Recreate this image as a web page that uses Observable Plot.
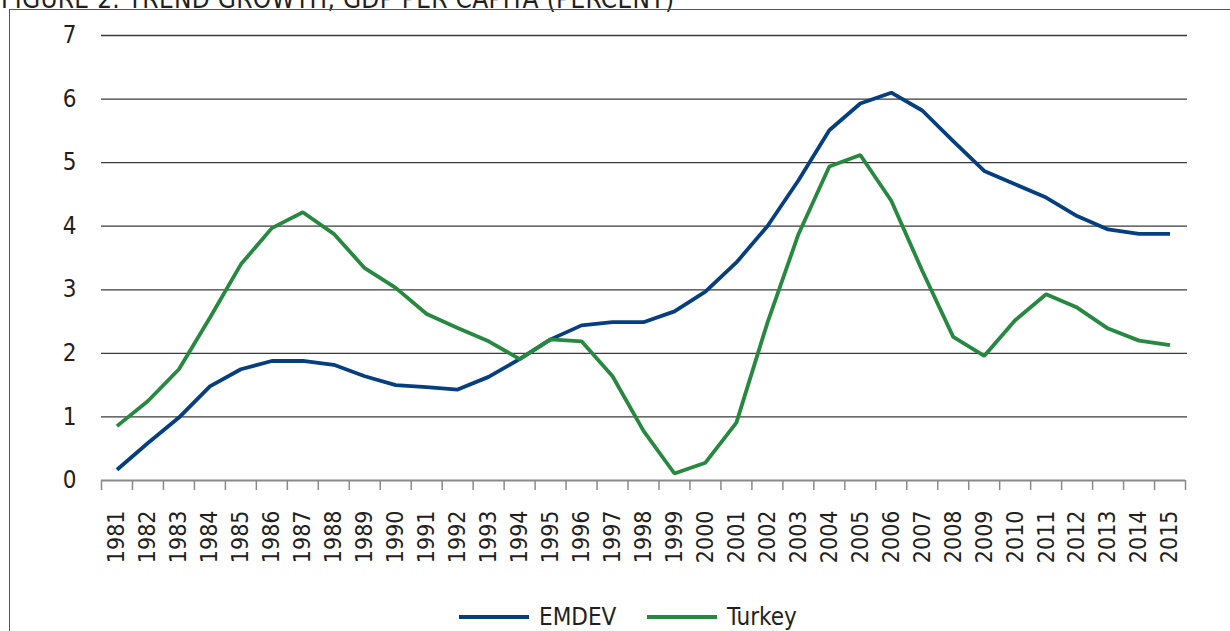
<!DOCTYPE html>
<html>
<head>
<meta charset="utf-8">
<script src="https://cdn.jsdelivr.net/npm/d3@7"></script>
<script src="https://cdn.jsdelivr.net/npm/@observablehq/plot@0.6"></script>
<style>
  html, body { margin: 0; padding: 0; background: #fff; }
  body { width: 1230px; height: 631px; overflow: hidden; position: relative;
         font-family: "Liberation Sans Narrow", "DejaVu Sans Condensed", "Roboto Condensed", sans-serif; }
  #title { position: absolute; left: 1px; top: -16px; font-size: 26px; color: #231f20; white-space: nowrap; letter-spacing: 0.3px; }
  #frame { position: absolute; left: 9px; top: 9px; width: 1400px; height: 800px; border-left: 1.5px solid #555; border-top: 1.5px solid #555; }
  #chart { position: absolute; left: 0; top: 0; }
  #legend { position: absolute; top: 603px; left: 0; width: 1230px; height: 28px; }
  .item { position: absolute; top: 0; display: flex; align-items: center; font-size: 24px; color: #231f20; }
  .sw { width: 70px; height: 4px; margin-right: 10px; }
</style>
</head>
<body>
<div id="title">FIGURE 2. TREND GROWTH, GDP PER CAPITA (PERCENT)</div>
<div id="frame"></div>
<div id="chart"></div>
<div id="legend"></div>
<script>
const years = [1981,1982,1983,1984,1985,1986,1987,1988,1989,1990,1991,1992,1993,1994,1995,1996,1997,1998,1999,2000,2001,2002,2003,2004,2005,2006,2007,2008,2009,2010,2011,2012,2013,2014,2015];
const emdev = [0.17,0.59,0.99,1.48,1.75,1.88,1.88,1.82,1.64,1.50,1.47,1.43,1.63,1.91,2.22,2.44,2.49,2.49,2.66,2.97,3.43,4.0,4.72,5.51,5.93,6.10,5.82,5.34,4.87,4.66,4.45,4.16,3.95,3.88,3.88];
const turkey = [0.855,1.25,1.75,2.56,3.40,3.97,4.22,3.88,3.34,3.03,2.62,2.40,2.19,1.91,2.22,2.19,1.64,0.78,0.11,0.28,0.91,2.48,3.87,4.94,5.12,4.40,3.30,2.26,1.96,2.52,2.93,2.72,2.39,2.20,2.13];
const yTicks = [0,1,2,3,4,5,6,7];
const seriesNames = ["EMDEV", "Turkey"];
const seriesColors = ["#063f7f", "#26893f"];

const data = [];
years.forEach((y, i) => {
  data.push({year: y, value: emdev[i], series: seriesNames[0]});
  data.push({year: y, value: turkey[i], series: seriesNames[1]});
});
const boundaries = years.map(y => y - 0.5).concat([years[years.length - 1] + 0.5]);

const chart = Plot.plot({
  width: 1230,
  height: 580,
  marginTop: 35,
  marginLeft: 101,
  marginRight: 45,
  marginBottom: 100,
  style: {background: "transparent", fontFamily: "'Liberation Sans Narrow', 'DejaVu Sans Condensed', sans-serif", fontSize: "24px", color: "#231f20", overflow: "visible"},
  x: {type: "linear", domain: [boundaries[0], boundaries[boundaries.length - 1]]},
  y: {domain: [0, 7]},
  color: {domain: seriesNames, range: seriesColors},
  marks: [
    Plot.ruleY(yTicks.filter(d => d > 0), {stroke: "#3a3a3a", strokeWidth: 1.3, insetRight: -2}),
    Plot.ruleY([0], {stroke: "#8a8a8a", strokeWidth: 2}),
    Plot.ruleX(boundaries, {y1: 0, y2: 0, insetBottom: -10, stroke: "#8a8a8a", strokeWidth: 1.5}),
    Plot.axisY({ticks: yTicks, tickSize: 0, tickPadding: 25, tickFormat: d => String(d), fontSize: 24, fill: "#231f20", label: null}),
    Plot.axisX({ticks: years, tickSize: 0, tickPadding: 30, tickRotate: -90, tickFormat: d => String(d), fontSize: 23, fill: "#231f20", label: null}),
    Plot.line(data, {x: "year", y: "value", stroke: "series", z: "series", strokeWidth: 3.8, strokeLinejoin: "miter", strokeLinecap: "butt"})
  ]
});
document.getElementById("chart").appendChild(chart);

const legend = document.getElementById("legend");
const lefts = [459, 647];
seriesNames.forEach((name, i) => {
  const item = document.createElement("div");
  item.className = "item";
  item.style.left = lefts[i] + "px";
  const sw = document.createElement("div");
  sw.className = "sw";
  sw.style.background = seriesColors[i];
  const t = document.createElement("span");
  t.textContent = name;
  item.appendChild(sw);
  item.appendChild(t);
  legend.appendChild(item);
});
</script>
</body>
</html>
